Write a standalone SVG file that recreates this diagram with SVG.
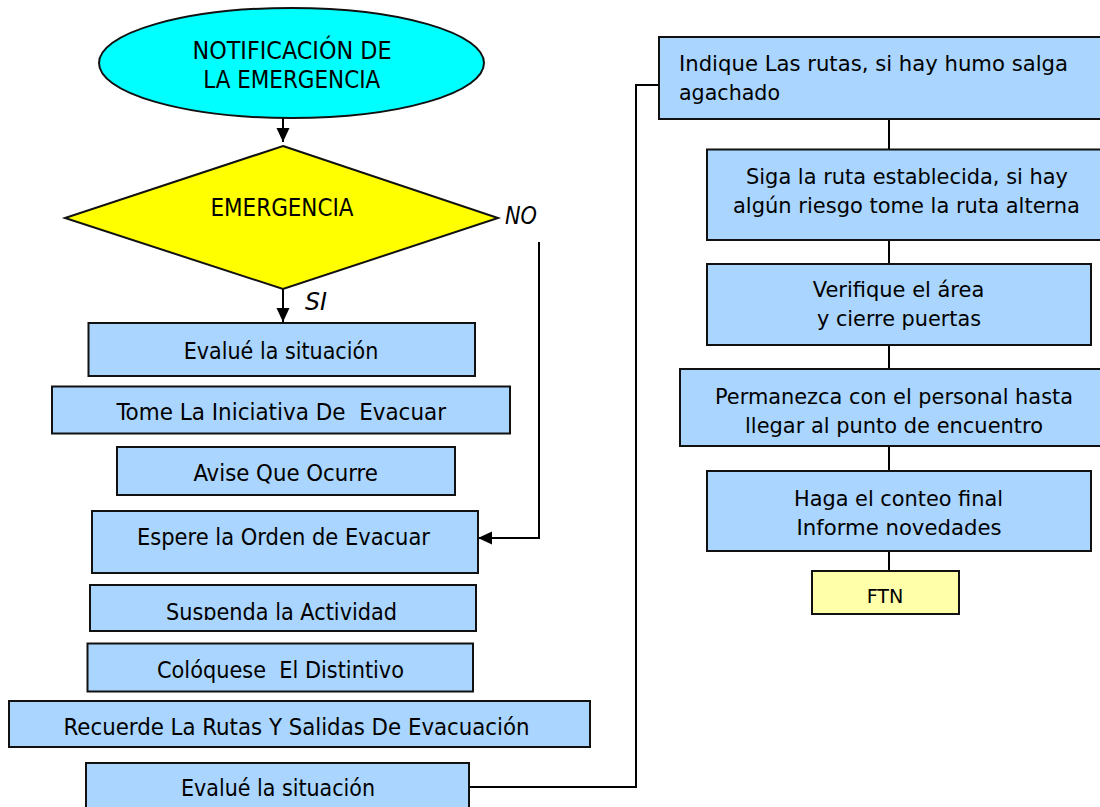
<svg xmlns="http://www.w3.org/2000/svg" width="1100" height="807" viewBox="0 0 1100 807">
<style>
.bx{fill:#A9D5FF;stroke:#111;stroke-width:2}
.lt{font-family:"DejaVu Sans Condensed","DejaVu Sans","Liberation Sans",sans-serif;font-stretch:condensed;font-size:23.5px;fill:#000;text-anchor:middle}
.rt{font-family:"DejaVu Sans","Liberation Sans",sans-serif;font-size:22px;fill:#000;text-anchor:middle}
.hd{font-family:"DejaVu Sans Condensed","DejaVu Sans","Liberation Sans",sans-serif;font-stretch:condensed;font-size:24.5px;fill:#000;text-anchor:middle}
.it{font-family:"DejaVu Sans Condensed","DejaVu Sans","Liberation Sans",sans-serif;font-stretch:condensed;font-style:italic;font-size:24px;fill:#000}
.ln{fill:none;stroke:#000;stroke-width:2}
</style>
<defs>
<marker id="ah" viewBox="0 0 14 14" refX="14" refY="7" markerWidth="14" markerHeight="14" markerUnits="userSpaceOnUse" orient="auto">
<path d="M0,0.5 L14,7 L0,13.5 Z" fill="#000"/>
</marker>
<clipPath id="c5"><rect x="80" y="580" width="400" height="40"/></clipPath>
</defs>

<g id="connectors">
<line class="ln" x1="283" y1="118" x2="283" y2="142" marker-end="url(#ah)"/>
<line class="ln" x1="283" y1="289" x2="283" y2="322" marker-end="url(#ah)"/>
<polyline class="ln" points="539,242 539,538 478,538" marker-end="url(#ah)"/>
<polyline class="ln" points="469,787 636,787 636,85 659,85"/>
<line class="ln" x1="889" y1="119" x2="889" y2="150"/>
<line class="ln" x1="889" y1="240" x2="889" y2="264"/>
<line class="ln" x1="889" y1="345" x2="889" y2="369"/>
<line class="ln" x1="889" y1="446" x2="889" y2="471"/>
<line class="ln" x1="889" y1="551" x2="889" y2="571"/>
</g>

<g id="n-notificacion">
<ellipse cx="291.5" cy="63" rx="192.5" ry="55" fill="#00FFFF" stroke="#111" stroke-width="2"/>
<text class="hd" x="292" y="59" textLength="199" lengthAdjust="spacingAndGlyphs">NOTIFICACIÓN DE</text>
<text class="hd" x="291.7" y="88" textLength="177" lengthAdjust="spacingAndGlyphs">LA EMERGENCIA</text>
</g>

<g id="n-emergencia">
<polygon points="283,146 498,218 283,289 65,218" fill="#FFFF00" stroke="#111" stroke-width="2"/>
<text class="hd" x="282" y="216" textLength="143" lengthAdjust="spacingAndGlyphs">EMERGENCIA</text>
</g>

<g id="lbl-no"><text class="it" x="505" y="224" textLength="32" lengthAdjust="spacingAndGlyphs">NO</text></g>
<g id="lbl-si"><text class="it" x="305" y="310" textLength="22" lengthAdjust="spacingAndGlyphs">SI</text></g>

<g id="n-evalue1">
<rect class="bx" x="88.5" y="323" width="386.5" height="53"/>
<text class="lt" x="281" y="359" textLength="194.5" lengthAdjust="spacingAndGlyphs">Evalué la situación</text>
</g>
<g id="n-tome">
<rect class="bx" x="52" y="386.5" width="458" height="47"/>
<text class="lt" x="281.3" y="420" textLength="329.5" lengthAdjust="spacingAndGlyphs" xml:space="preserve">Tome La Iniciativa De  Evacuar</text>
</g>
<g id="n-avise">
<rect class="bx" x="117" y="447" width="338" height="48"/>
<text class="lt" x="285.7" y="480.5" textLength="184.5" lengthAdjust="spacingAndGlyphs">Avise Que Ocurre</text>
</g>
<g id="n-espere">
<rect class="bx" x="92" y="511" width="386" height="62"/>
<text class="lt" x="283.5" y="545" textLength="293" lengthAdjust="spacingAndGlyphs">Espere la Orden de Evacuar</text>
</g>
<g id="n-suspenda">
<rect class="bx" x="90" y="585" width="386" height="46"/>
<text class="lt" x="281.5" y="619.5" textLength="231" lengthAdjust="spacingAndGlyphs" clip-path="url(#c5)">Suspenda la Actividad</text>
</g>
<g id="n-coloquese">
<rect class="bx" x="87.5" y="643.5" width="385.5" height="48"/>
<text class="lt" x="280.5" y="678" textLength="247" lengthAdjust="spacingAndGlyphs" xml:space="preserve">Colóquese  El Distintivo</text>
</g>
<g id="n-recuerde">
<rect class="bx" x="9" y="701" width="581" height="46"/>
<text class="lt" x="296.6" y="735" textLength="466" lengthAdjust="spacingAndGlyphs">Recuerde La Rutas Y Salidas De Evacuación</text>
</g>
<g id="n-evalue2">
<rect class="bx" x="86" y="763" width="383" height="60"/>
<text class="lt" x="278" y="796" textLength="194" lengthAdjust="spacingAndGlyphs">Evalué la situación</text>
</g>

<g id="n-indique">
<rect class="bx" x="659" y="37" width="442" height="82"/>
<text class="rt" x="679" y="70.5" style="text-anchor:start" textLength="389" lengthAdjust="spacingAndGlyphs">Indique Las rutas, si hay humo salga</text>
<text class="rt" x="679" y="100" style="text-anchor:start" textLength="101" lengthAdjust="spacingAndGlyphs">agachado</text>
</g>
<g id="n-siga">
<rect class="bx" x="707" y="149.5" width="394" height="90.5"/>
<text class="rt" x="907" y="184" textLength="322" lengthAdjust="spacingAndGlyphs">Siga la ruta establecida, si hay</text>
<text class="rt" x="906.5" y="212.5" textLength="347" lengthAdjust="spacingAndGlyphs">algún riesgo tome la ruta alterna</text>
</g>
<g id="n-verifique">
<rect class="bx" x="707" y="264" width="384" height="81"/>
<text class="rt" x="898.5" y="297" textLength="171.6" lengthAdjust="spacingAndGlyphs">Verifique el área</text>
<text class="rt" x="899" y="326" textLength="164" lengthAdjust="spacingAndGlyphs">y cierre puertas</text>
</g>
<g id="n-permanezca">
<rect class="bx" x="680" y="369" width="421" height="77"/>
<text class="rt" x="894" y="404" textLength="358" lengthAdjust="spacingAndGlyphs">Permanezca con el personal hasta</text>
<text class="rt" x="894" y="432.5" textLength="298" lengthAdjust="spacingAndGlyphs">llegar al punto de encuentro</text>
</g>
<g id="n-haga">
<rect class="bx" x="707" y="471" width="384" height="80"/>
<text class="rt" x="898.5" y="505.5" textLength="209" lengthAdjust="spacingAndGlyphs">Haga el conteo final</text>
<text class="rt" x="899" y="534.5" textLength="205" lengthAdjust="spacingAndGlyphs">Informe novedades</text>
</g>
<g id="n-ftn">
<rect x="812" y="571" width="147" height="43" fill="#FFFFAA" stroke="#111" stroke-width="2"/>
<text class="rt" x="885" y="603" style="font-size:19.5px" textLength="36.7" lengthAdjust="spacingAndGlyphs">FTN</text>
</g>
</svg>
